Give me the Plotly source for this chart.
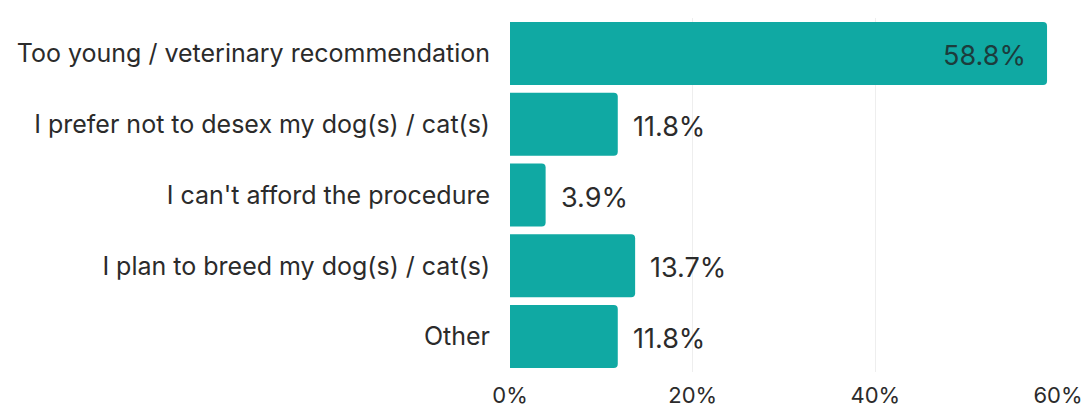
import plotly.graph_objects as go

categories = [
    "Too young / veterinary recommendation",
    "I prefer not to desex my dog(s) / cat(s)",
    "I can't afford the procedure",
    "I plan to breed my dog(s) / cat(s)",
    "Other",
]
values = [58.8, 11.8, 3.9, 13.7, 11.8]
tick_vals = [0, 20, 40, 60]
tick_text = ["0%", "20%", "40%", "60%"]

FONT = "Inter"
BAR = "#10a9a3"

fig = go.Figure(
    go.Bar(
        x=values,
        y=categories,
        orientation="h",
        marker=dict(color=BAR, cornerradius=4, line=dict(width=0)),
        hoverinfo="x+y",
    )
)

for cat, v in zip(categories, values):
    inside = v > 30
    fig.add_annotation(
        x=v,
        y=cat,
        text=f"{v:.1f}%",
        showarrow=False,
        xanchor="right" if inside else "left",
        xshift=-19 if inside else 13,
        yshift=-2,
        font=dict(family=FONT, size=27, color="#1c3c3c" if inside else "#2b2b2b"),
    )

fig.update_layout(
    width=1088,
    height=411,
    margin=dict(l=510, r=30, t=18, b=39, autoexpand=False),
    plot_bgcolor="white",
    paper_bgcolor="white",
    font=dict(family=FONT, size=25, color="#2b2b2b"),
    bargap=0.11,
    showlegend=False,
)
fig.update_xaxes(
    range=[0, 60],
    tickvals=tick_vals,
    ticktext=tick_text,
    showgrid=True,
    gridcolor="#eeeeee",
    gridwidth=1,
    zeroline=False,
    showline=False,
    automargin=False,
    ticklabelstandoff=8,
    tickfont=dict(family=FONT, size=22, color="#2b2b2b"),
)
fig.update_yaxes(
    autorange="reversed",
    showgrid=False,
    zeroline=False,
    showline=False,
    automargin=False,
    ticklabelstandoff=19,
    tickfont=dict(family=FONT, size=25, color="#2b2b2b"),
)

fig.write_html(
    "out.html",
    config={"displayModeBar": False},
    post_script="document.body.style.margin='0';document.body.style.overflow='hidden';",
)
